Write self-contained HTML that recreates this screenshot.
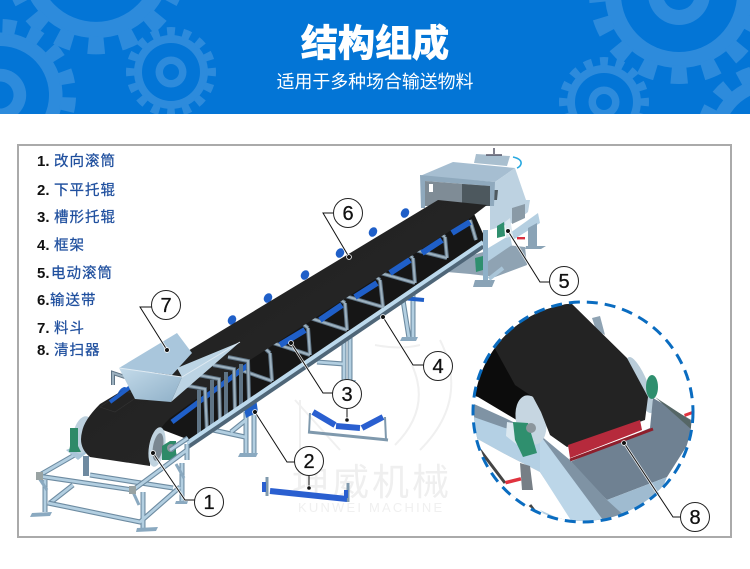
<!DOCTYPE html>
<html lang="zh"><head><meta charset="utf-8"><title>结构组成</title>
<style>
html,body{margin:0;padding:0;background:#fff}
svg{display:block}
text{font-family:"Liberation Sans","Noto Sans CJK SC",sans-serif}
.n{font-weight:700;font-size:15px;fill:#111}
.c{font-size:14.5px;fill:#1f4f9e;letter-spacing:1px;stroke:#1f4f9e;stroke-width:.25}
.lab{font-size:20px;fill:#111;text-anchor:middle;stroke:#111;stroke-width:.3}
.fd{stroke:#6d8ba1;stroke-width:5;fill:none}
.f{stroke:#b3cfe1;stroke-width:2.8;fill:none}
.gd{stroke:#5f7485;stroke-width:4;fill:none}
.g{stroke:#9db1bf;stroke-width:2;fill:none}
.r{stroke:#1f5fc8;stroke-width:6;fill:none}
.l{stroke:#111;stroke-width:1;fill:none}
.w{stroke:#fff;stroke-width:2.6;fill:none;opacity:.8}
</style></head><body>
<svg width="750" height="569" viewBox="0 0 750 569" xmlns="http://www.w3.org/2000/svg">
<defs>
<g id="gear">
<circle r="37" fill="#2d8bdc"/>
<circle r="40.5" fill="none" stroke="#2d8bdc" stroke-width="9" pathLength="32" stroke-dasharray="1 1" stroke-dashoffset=".5"/>
<circle r="29" fill="#0375d6"/>
<circle r="15.5" fill="#2d8bdc"/>
<circle r="8" fill="#0375d6"/>
</g>
<clipPath id="hd"><rect width="750" height="114"/></clipPath>
<clipPath id="ins"><circle cx="583" cy="412" r="109"/></clipPath>
<linearGradient id="hf" x1="0" y1="0" x2="1" y2="1"><stop offset="0" stop-color="#c4dbea"/><stop offset="1" stop-color="#8fb0c8"/></linearGradient>
<linearGradient id="belt" x1="0" y1="0" x2="1" y2="1"><stop offset="0" stop-color="#1d1d1d"/><stop offset="1" stop-color="#2b2b2b"/></linearGradient>
</defs>
<rect width="750" height="569" fill="#fff"/>
<rect width="750" height="114" fill="#0375d6"/>
<g clip-path="url(#hd)">
<use href="#gear" transform="translate(96,-37) scale(2.03)"/>
<use href="#gear" transform="translate(0,95) scale(1.69) rotate(8)"/>
<use href="#gear" transform="translate(171,72)"/>
<use href="#gear" transform="translate(679,-6) scale(2)"/>
<use href="#gear" transform="translate(604,102)"/>
<use href="#gear" transform="translate(772,140) scale(1.7)"/>
</g>
<text x="375" y="56" text-anchor="middle" font-size="37" font-weight="700" fill="#fff" stroke="#fff" stroke-width="1">结构组成</text>
<text x="375" y="88" text-anchor="middle" font-size="17.9" fill="#fff">适用于多种场合输送物料</text>

<rect x="18" y="145" width="713" height="392" fill="#fff" stroke="#aaa" stroke-width="2"/>

<!-- legend -->
<text class="n" x="37" y="166">1.</text><text class="c" x="54" y="166">改向滚筒</text>
<text class="n" x="37" y="195">2.</text><text class="c" x="54" y="195">下平托辊</text>
<text class="n" x="37" y="222">3.</text><text class="c" x="54" y="222">槽形托辊</text>
<text class="n" x="37" y="250">4.</text><text class="c" x="54" y="250">框架</text>
<text class="n" x="37" y="278">5.</text><text class="c" x="51" y="278">电动滚筒</text>
<text class="n" x="37" y="305">6.</text><text class="c" x="50" y="305">输送带</text>
<text class="n" x="37" y="333">7.</text><text class="c" x="54" y="333">料斗</text>
<text class="n" x="37" y="355">8.</text><text class="c" x="54" y="355">清扫器</text>

<!-- watermark -->
<g fill="none" stroke="#f0f0f0" stroke-width="2">
<path d="M295 400 L340 450 M300 400 L300 460 M440 340 Q470 400 420 450 M400 345 Q440 400 395 445 M375 345 Q400 350 420 345"/>
</g>
<text x="292" y="495" font-size="37" fill="#efefef" letter-spacing="3">坤威机械</text>
<text x="298" y="512" font-size="13" fill="#f0f0f0" letter-spacing="2.2">KUNWEI MACHINE</text>

<!-- head housing -->
<polygon points="476,154 510,156 507,166 474,163" fill="#a9bfcf"/>
<path d="M494 148V154M486 155H502" stroke="#556" stroke-width="1.5"/>
<path d="M513 157Q522 159 521 164Q520 167 517 168" fill="none" stroke="#29a9e0" stroke-width="1.6"/>
<polygon points="420,176 453,162 515,168 495,182" fill="#a6bed1"/>
<polygon points="495,182 515,168 526,200 530,200 528,212 515,222 490,230 490,205" fill="#bdd2e1"/>
<polygon points="493,190 498,190 497,200 492,200" fill="#4f5a60"/>
<polygon points="512,208 525,204 525,218 512,224" fill="#8a9aa6"/>
<polygon points="420,175 495,182 494,206 490,206 490,186 425,181 425,208 421,208" fill="#8fa9bd"/>
<polygon points="425,181 490,186 490,206 425,206" fill="#7f8c96"/>
<polygon points="462,184 490,186 490,206 462,206" fill="#4d585e"/>
<rect x="429" y="184" width="4" height="8" fill="#fff"/>
<!-- head base -->
<polygon points="447,272 473,255 507,245 525,247 527,265 495,277 470,274" fill="#8fa3b3"/>
<polygon points="510,233 538,213 540,223 513,240" fill="#b5cfe1"/>
<polygon points="528,228 537,223 537,247 528,247" fill="#8aa3b6"/>
<polygon points="526,246 546,246 541,249 525,249" fill="#8aa3b6"/>
<rect x="517" y="237" width="8" height="2.4" fill="#d83040"/>

<!-- mid legs -->
<path class="fd" d="M403 300L409 338M413 292V338"/><path class="f" d="M403 300L409 338M413 292V338"/>
<polygon points="402,337 418,337 416,341 400,341" fill="#8aa9c0"/>
<path class="fd" d="M344 340V381M350 335V381M317 362L344 364"/><path class="f" d="M344 340V381M350 335V381M317 362L344 364"/>
<polygon points="340,380 356,380 354,384 339,384" fill="#8aa9c0"/>
<path class="fd" d="M246 412V454M254 408V454M213 430L245 437M231 432L246 420"/><path class="f" d="M246 412V454M254 408V454M213 430L245 437M231 432L246 420"/>
<polygon points="240,453 258,453 256,457 238,457" fill="#8aa9c0"/>
<path d="M243 404L256 398L258 412L246 418Z" fill="#1f5fc8"/>
<path d="M402 298L424 300" stroke="#1f5fc8" stroke-width="4"/>

<!-- tail frame back -->
<path class="fd" d="M38 476L78 453M73 485L50 503M90 475L173 488"/><path class="f" d="M38 476L78 453M73 485L50 503M90 475L173 488"/>
<rect x="83" y="456" width="6" height="20" fill="#6f8aa0"/>
<polygon points="66,450 76,446 88,452 78,460" fill="#a9c5d8"/>
<!-- left disc + bearing, behind belt -->
<ellipse cx="83" cy="435" rx="10" ry="19" fill="#bcd0dd" transform="rotate(12 83 435)"/>
<path d="M70 428h8v18l3 6h-12l1-6z" fill="#2e8a68"/>
<!-- back-of-belt rollers -->
<g fill="#1f5fc8">
<ellipse cx="232" cy="320" rx="4" ry="5" transform="rotate(30 232 320)"/>
<ellipse cx="268" cy="298" rx="4" ry="5" transform="rotate(30 268 298)"/>
<ellipse cx="305" cy="275" rx="4" ry="5" transform="rotate(30 305 275)"/>
<ellipse cx="340" cy="253" rx="4" ry="5" transform="rotate(30 340 253)"/>
<ellipse cx="373" cy="232" rx="4" ry="5" transform="rotate(30 373 232)"/>
<ellipse cx="405" cy="213" rx="4" ry="5" transform="rotate(30 405 213)"/>
<ellipse cx="122" cy="392" rx="3" ry="6" transform="rotate(40 122 392)"/>
</g>
<!-- return dark region -->
<polygon points="470,205 486,240 192,441 150,425 250,345" fill="#161616"/>
<!-- stations under belt -->
<path class="gd" d="M270 353L272 381M232 367L272 381M308 328L310 355M270 342L310 355M345 303L347 330M307 317L347 330M380 280L383 307M342 295L383 307M413 258L415 283M377 272L415 283M445 237L447 258M411 249L447 258M258 342L270 353M296 318L308 328M333 294L345 303M369 271L380 280M402 250L413 258M435 230L445 237M470 220L476 240"/>
<path class="g" d="M270 353L272 381M232 367L272 381M308 328L310 355M270 342L310 355M345 303L347 330M307 317L347 330M380 280L383 307M342 295L383 307M413 258L415 283M377 272L415 283M445 237L447 258M411 249L447 258M258 342L270 353M296 318L308 328M333 294L345 303M369 271L380 280M402 250L413 258M435 230L445 237M470 220L476 240"/>
<!-- belt -->
<path d="M438 200L487 205L470 218L253 358L170 418Q150 436 150 466L90 457Q78 447 82 432Q84 420 100 404Z" fill="url(#belt)"/>
<path d="M100 407L125 391L140 395L115 412Z" fill="none" stroke="#333" stroke-width=".6"/>
<!-- idler rollers -->
<path class="r" d="M280 345L305 330M320 320L342 305M355 297L377 283M390 273L410 260M422 253L442 240M452 233L470 222"/>
<path d="M172 422L248 365" stroke="#1f5fc8" stroke-width="5" fill="none"/>
<!-- stations near hopper -->
<path class="gd" d="M183 385L205 389L207 432M198 375L219 379L220 421M213 365L234 369L235 411M228 357L248 361L249 400M199 390L199 437M212 380L212 428M226 372L226 419M241 364L241 408"/>
<path class="g" d="M183 385L205 389L207 432M198 375L219 379L220 421M213 365L234 369L235 411M228 357L248 361L249 400"/>
<path class="gd" d="M113 385V373L125 377"/><path class="g" d="M113 385V373L125 377"/>
<path d="M133 385L110 402" stroke="#1f5fc8" stroke-width="4"/>
<!-- rail -->
<path d="M187 447L483 246" stroke="#4f6678" stroke-width="5"/>
<path d="M187 443L483 242" stroke="#bcd9ec" stroke-width="4"/>
<!-- head posts front -->
<polygon points="485,250 510,235 512,245 487,262" fill="#b5cfe1"/>
<polygon points="483,230 488,230 488,281 483,281" fill="#8fb0c8"/>
<polygon points="475,280 495,280 492,287 473,287" fill="#8aa3b6"/>
<path d="M489 279L503 268" stroke="#a9c5d8" stroke-width="4"/>
<polygon points="497,226 504,222 505,236 497,238" fill="#2f8f6e"/>
<polygon points="505,222 510,218 513,236 506,238" fill="#dbe7ef"/>
<polygon points="475,258 483,256 483,270 476,272" fill="#2f8f6e"/>

<!-- tail drum -->
<ellipse cx="157" cy="447" rx="8" ry="20" fill="#c0d3df" transform="rotate(10 157 447)"/>
<ellipse cx="158" cy="447" rx="5" ry="14" fill="#7a8791" transform="rotate(10 158 447)"/>
<path d="M162 446L170 441H176V452L178 460H162Z" fill="#2e8a68"/>
<circle cx="171" cy="448" r="4" fill="#8c969c"/>
<!-- tail frame front -->
<path class="fd" d="M38 476L133 490L187 450M48 503L140 522L180 487M45 480V512M143 492V528M182 463V502M187 444V460M170 450L188 438"/>
<path class="f" d="M38 476L133 490L187 450M48 503L140 522L180 487M45 480V512M143 492V528M182 463V502M187 444V460M170 450L188 438"/>
<path d="M39 478L47 490M133 492L139 505M176 464L184 478" stroke="#8aa9c0" stroke-width="3"/>
<rect x="36" y="472" width="7" height="8" fill="#99a3a3"/>
<rect x="129" y="486" width="7" height="8" fill="#99a3a3"/>
<polygon points="32,513 52,512 50,516 30,517" fill="#8aa9c0"/>
<polygon points="137,528 158,527 156,531 136,532" fill="#8aa9c0"/>
<polygon points="176,501 188,501 187,504 175,504" fill="#8aa9c0"/>

<!-- hopper -->
<polygon points="119,368 177,333 192,353 172,375" fill="#a9c6dc"/>
<polygon points="177,368 240,342 171,402 182,377" fill="#bcd4e4"/>
<polygon points="119,368 182,377 171,402 135,399" fill="url(#hf)"/>
<path d="M119 368L182 377L240 342" fill="none" stroke="#dfeaf2" stroke-width="1"/>

<!-- idlers loose -->
<path d="M309 433L310 413M385 417L386 440" stroke="#7f99ad" stroke-width="2"/>
<path d="M308 432L388 440" stroke="#7f99ad" stroke-width="3"/>
<path d="M313 412L335 425M336 426L360 428M362 428L383 417" stroke="#2a5fd0" stroke-width="6"/>
<path d="M267 477V496M348 483V502" stroke="#7f99ad" stroke-width="3"/>
<path d="M270 491L347 499" stroke="#2a5fd0" stroke-width="6"/>
<path d="M264 482V492M346 490V498" stroke="#2a5fd0" stroke-width="4"/>

<!-- inset -->
<circle cx="583" cy="412" r="109" fill="#fff"/>
<g clip-path="url(#ins)">
<polygon points="592,318 600,316 605,335 596,330" fill="#8fa3b3"/>
<ellipse cx="640" cy="385" rx="8" ry="30" fill="#b9ccd9" transform="rotate(-22 640 385)"/>
<ellipse cx="652" cy="387" rx="6" ry="12" fill="#2f8f6e"/>
<!-- chute -->
<polygon points="653,398 700,425 667,477 607,500 570,462 650,428" fill="#6f8192"/>
<polygon points="607,500 667,477 655,507 610,522" fill="#9fbbd0"/>
<polygon points="655,397 690,420 692,430" fill="#566"/>
<rect x="684" y="414" width="8" height="3" fill="#e0333f" transform="rotate(-20 684 414)"/>
<!-- rail surfaces -->
<polygon points="465,400 505,418 540,435 570,460 607,500 640,530 470,530" fill="#7f93a4"/>
<polygon points="465,414 505,428 540,435 540,472 503,453 465,432" fill="#b4d0e4"/>
<polygon points="465,432 503,453 540,472 572,520 620,540 460,540" fill="#fff"/>
<polygon points="540,435 603,520 572,522 540,472" fill="#bcd6e8"/>
<polygon points="540,510 567,522 600,530 560,530" fill="#b4d0e4"/>
<path d="M480 450L505 483M530 505L545 525" stroke="#444" stroke-width="3"/>
<polygon points="520,463 530,466 533,490 522,490" fill="#777f86"/>
<rect x="505" y="481" width="16" height="3.5" fill="#e0333f" transform="rotate(-14 505 481)"/>
<polygon points="570,302 440,290 440,385 478,397 520,422 530,400" fill="#0c0c0c"/>
<ellipse cx="531" cy="420" rx="15" ry="25" fill="#c6d6e1" transform="rotate(-12 531 420)"/>
<polygon points="570,302 627,358 648,397 645,420 567,447 550,435 541,412 533,397 515,385 493,345 440,360 440,290" fill="#232323"/>
<polygon points="507,422 513,423 520,447 506,436" fill="#dbe8f0"/>
<polygon points="513,422 528,423 537,453 523,457 515,440" fill="#2f8f6e"/>
<circle cx="531" cy="428" r="5" fill="#8c969c"/>
<polygon points="568,445 640,420 642,430 570,458" fill="#b62a3c"/>
<path d="M570 460L653 429" stroke="#8e1f2c" stroke-width="3"/>
</g>
<circle cx="583" cy="412" r="110" fill="none" stroke="#0a6cc0" stroke-width="3" stroke-dasharray="11 7"/>

<!-- leaders -->
<path class="w" d="M153 453L185 500H195M255 412L287 462H295M291 343L323 393H333M383 317L413 365H424M508 231L540 282H550M349 257L323 213H334M167 350L140 307H152M624 443L673 517H681"/>
<path class="l" d="M153 453L185 500H195M255 412L287 462H295M291 343L323 393H333M383 317L413 365H424M508 231L540 282H550M349 257L323 213H334M167 350L140 307H152M624 443L673 517H681M347 408V421M309 475V489"/>
<g fill="#111" stroke="#fff" stroke-width=".8">
<circle cx="153" cy="453" r="2.4"/><circle cx="255" cy="412" r="2.4"/><circle cx="291" cy="343" r="2.4"/><circle cx="383" cy="317" r="2.4"/><circle cx="508" cy="231" r="2.4"/><circle cx="349" cy="257" r="2.4"/><circle cx="167" cy="350" r="2.4"/><circle cx="624" cy="443" r="2.4"/><circle cx="347" cy="420" r="2.2"/><circle cx="309" cy="488" r="2.2"/>
</g>
<g fill="#fff" stroke="#222" stroke-width="1">
<circle cx="209" cy="502" r="14.5"/><circle cx="309" cy="461" r="14.5"/><circle cx="347" cy="394" r="14.5"/><circle cx="438" cy="366" r="14.5"/><circle cx="564" cy="281" r="14.5"/><circle cx="348" cy="213" r="14.5"/><circle cx="166" cy="305" r="14.5"/><circle cx="695" cy="517" r="14.5"/>
</g>
<text class="lab" x="209" y="509">1</text>
<text class="lab" x="309" y="468">2</text>
<text class="lab" x="347" y="401">3</text>
<text class="lab" x="438" y="373">4</text>
<text class="lab" x="564" y="288">5</text>
<text class="lab" x="348" y="220">6</text>
<text class="lab" x="166" y="312">7</text>
<text class="lab" x="695" y="524">8</text>
</svg>
</body></html>
